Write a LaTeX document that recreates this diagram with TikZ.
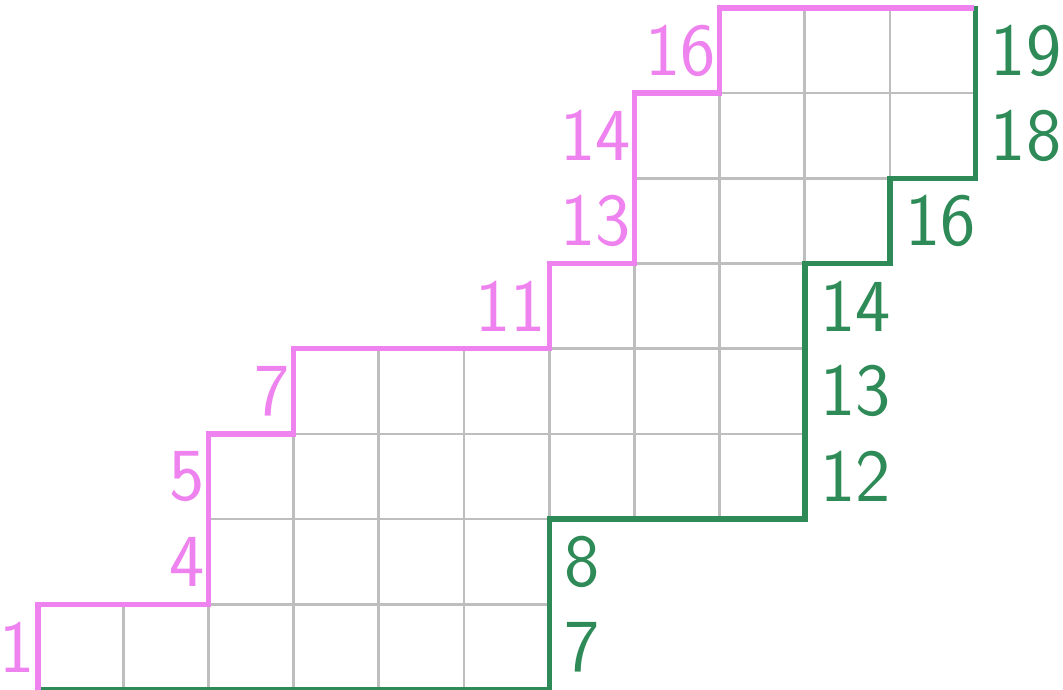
\documentclass[tikz,border=0pt]{standalone}
\usepackage{tikz}

\definecolor{pinkline}{RGB}{238,130,238}
\definecolor{greenline}{RGB}{46,139,87}
\definecolor{gridgray}{RGB}{190,190,190}

\begin{document}
\begin{tikzpicture}[
    cell/.style={draw=gridgray, line width=0.9pt},
    upper/.style={draw=pinkline, line width=1.8pt},
    lower/.style={draw=greenline, line width=1.8pt},
    uplabel/.style={anchor=east, inner sep=1pt, text=pinkline, font=\sffamily\fontsize{25}{30}\selectfont},
    lowlabel/.style={anchor=west, inner sep=5pt, text=greenline, font=\sffamily\fontsize{25}{30}\selectfont}
]
\useasboundingbox (-0.446,-0.005) rectangle (12.03,8.093);

% Cells - row / first column / last column
\foreach \row/\first/\last in {0/0/5,1/2/5,2/2/8,3/3/8,4/6/8,5/7/9,6/7/10,7/8/10}
  \foreach \col in {\first,...,\last}
    \draw[cell] (\col,\row) rectangle ++(1,1);

% Boundary paths
\draw[lower] (0,0) -- (6,0) -- (6,2) -- (9,2) -- (9,5) -- (10,5) -- (10,6) -- (11,6) -- (11,8.02);
\draw[upper] (0,0) -- (0,1) -- (2,1) -- (2,3) -- (3,3) -- (3,4) -- (6,4) -- (6,5) -- (7,5) -- (7,7) -- (8,7) -- (8,8) -- (10.98,8);

% Labels on the upper path
\foreach \x/\y/\n in {0/0.5/1, 2/1.5/4, 2/2.5/5, 3/3.5/7, 6/4.5/11, 7/5.5/13, 7/6.5/14, 8/7.5/16}
  \node[uplabel] (up-\n) at (\x,\y) {\n};

% Labels on the lower path
\foreach \x/\y/\n in {6/0.5/7, 6/1.5/8, 9/2.5/12, 9/3.5/13, 9/4.5/14, 10/5.5/16, 11/6.5/18, 11/7.5/19}
  \node[lowlabel] (low-\n) at (\x,\y) {\n};

\end{tikzpicture}
\end{document}
